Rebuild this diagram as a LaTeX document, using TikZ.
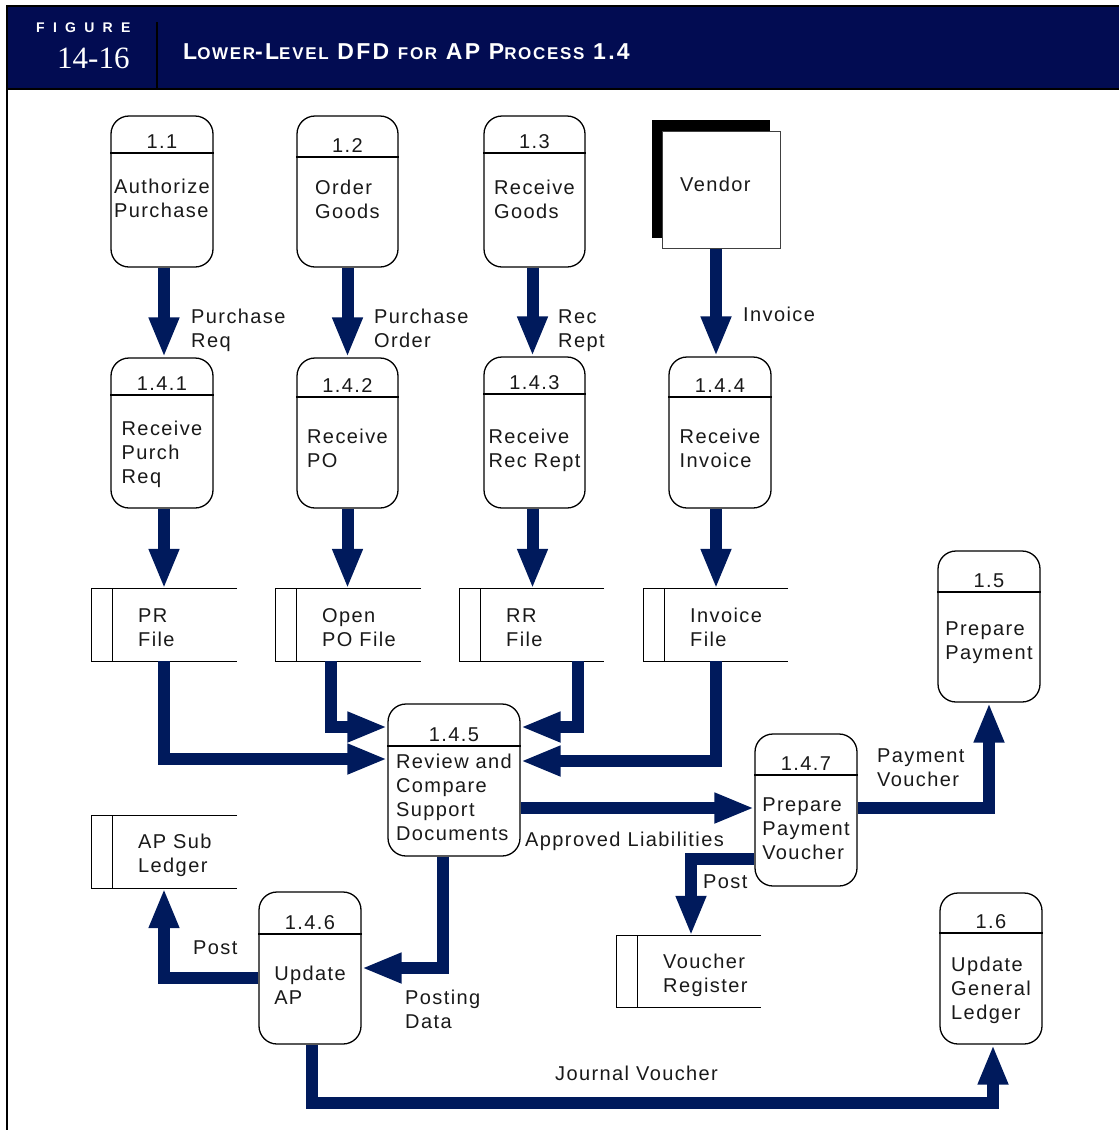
\documentclass[tikz,border=0pt]{standalone}
\usepackage{fontspec}
\setmainfont{Liberation Sans}[LetterSpace=7]
\newfontfamily\numfont{Liberation Serif}
\newfontfamily\headfont{Liberation Sans}[LetterSpace=59]
\newfontfamily\titlefont{Liberation Sans}[LetterSpace=10]
\usetikzlibrary{arrows.meta,fit}
\definecolor{hdr}{RGB}{2,12,82}
\definecolor{flowc}{RGB}{0,26,92}
\newcommand\lines[1]{\vtop{\halign{##\hfil\cr#1\crcr}}}
\newcommand\tbig[1]{{\fontsize{23}{23}\selectfont #1}}
\newcommand\tsml[1]{{\fontsize{17}{17}\selectfont #1}}
\tikzset{
  proc/.style={draw=black, line width=1.3pt, rounded corners=18pt, inner sep=0pt, fill=white},
  divider/.style={line width=1.2pt},
  lbl/.style={inner sep=0pt, font=\fontsize{20}{24}\selectfont, text=black!90},
  flow/.style={draw=flowc, line width=12pt, -{Triangle[width=28pt,length=40pt]}},
  storeline/.style={line width=1.3pt},
}
% name, x1, y1, x2, y2, divider y, number, body baseline, body
\newcommand\proc[9]{%
  \node[proc, fit={(#2,#3)(#4,#5)}] (#1) {};
  \draw[divider] (#1.west |- 0,#6) -- (#1.east |- 0,#6);
  \node[lbl, anchor=base, yshift=5pt] (#1-n) at (#1.center |- 0,#6) {#7};
  \node[lbl, anchor=base] (#1-t) at (#1.center |- 0,#8) {\lines{#9}};
}
% name, x1, y1, x2, y2, text x, text baseline, text
\newcommand\store[8]{%
  \node[fit={(#2,#3)(#4,#5)}, inner sep=0pt] (#1) {};
  \draw[storeline] (#1.north east) -- (#1.north west) -- (#1.south west) -- (#1.south east);
  \draw[storeline] ([xshift=21pt]#1.north west) -- ([xshift=21pt]#1.south west);
  \node[lbl, anchor=base west] (#1-t) at (#6,#7) {\lines{#8}};
}
\begin{document}
\begin{tikzpicture}[x=1pt,y=-1pt]
\useasboundingbox (0,0) rectangle (1119,1130);
% header
\fill[hdr] (7,6) rectangle (1119,89);
\draw[line width=1.8pt] (1119,6) -- (7,6) -- (7,1130);
\draw[line width=1.8pt] (7,89) -- (1119,89);
\draw[line width=2.4pt] (157,22) -- (157,89);
\node[anchor=base west, inner sep=0pt, text=white, font=\headfont\bfseries\fontsize{14}{14}\selectfont] (fig) at (36,32) {FIGURE};
\node[anchor=base west, inner sep=0pt, text=white, font=\numfont\fontsize{31}{31}\selectfont] (fignum) at (57,68) {14-16};
\node[anchor=base west, inner sep=0pt, text=white, font=\titlefont\bfseries\fontsize{23}{23}\selectfont] (title) at (183,59)
  {\tbig{L}\tsml{OWER}-\tbig{L}\tsml{EVEL} \tbig{DFD} \tsml{FOR} \tbig{AP} \tbig{P}\tsml{ROCESS} \tbig{1.4}};

% processes
\proc{p11}{111}{116}{213}{267}{153}{1.1}{193}{Authorize\cr Purchase}
\proc{p12}{297}{116}{398}{267}{157}{1.2}{194}{Order\cr Goods}
\proc{p13}{484}{116}{585}{267}{153}{1.3}{194}{Receive\cr Goods}
\proc{p141}{111}{358}{213}{508}{395}{1.4.1}{435}{Receive\cr Purch\cr Req}
\proc{p142}{297}{358}{398}{508}{397}{1.4.2}{443}{Receive\cr PO}
\proc{p143}{484}{357}{585}{508}{394}{1.4.3}{443}{Receive\cr Rec Rept}
\proc{p144}{669}{357}{771}{508}{397}{1.4.4}{443}{Receive\cr Invoice}
\proc{p15}{938}{551}{1040}{702}{592}{1.5}{635}{Prepare\cr Payment}
\proc{p145}{388}{704}{520}{856}{746}{1.4.5}{768}{Review and\cr Compare\cr Support\cr Documents}
\proc{p147}{755}{734}{857}{886}{775}{1.4.7}{811}{Prepare\cr Payment\cr Voucher}
\proc{p146}{259}{892}{361}{1044}{934}{1.4.6}{980}{Update\cr AP}
\proc{p16}{940}{893}{1042}{1044}{933}{1.6}{971}{Update\cr General\cr Ledger}

% external entity
\fill[black] (652,120) rectangle (770,238);
\node[fit={(662,131)(780,248)}, inner sep=0pt, draw=black!75, line width=1pt, fill=white] (vendor) {};
\node[lbl, anchor=base west] (vendor-t) at (680,191) {Vendor};

% data stores
\store{pr}{92}{589}{237}{661}{138}{622}{PR\cr File}
\store{opo}{276}{589}{421}{661}{322}{622}{Open\cr PO File}
\store{rr}{460}{589}{604}{661}{506}{622}{RR\cr File}
\store{inv}{644}{589}{788}{661}{690}{622}{Invoice\cr File}
\store{aps}{92}{816}{237}{888}{138}{848}{AP Sub\cr Ledger}
\store{vr}{617}{936}{761}{1007}{663}{968}{Voucher\cr Register}

% flows
\draw[flow] ([xshift=2pt]p11.south) -- ([xshift=2pt]p141.north);
\draw[flow] (p12.south) -- (p142.north);
\draw[flow] ([xshift=-2pt]p13.south) -- ([xshift=-2pt]p143.north);
\draw[flow] ([xshift=-5pt]vendor.south) -- ([xshift=-5pt]vendor.south |- p144.north);
\draw[flow] ([xshift=2pt]p141.south) -- ([xshift=2pt]p141.south |- pr.north);
\draw[flow] (p142.south) -- (p142.south |- opo.north);
\draw[flow] ([xshift=-2pt]p143.south) -- ([xshift=-2pt]p143.south |- rr.north);
\draw[flow] ([xshift=-4pt]p144.south) -- ([xshift=-4pt]p144.south |- inv.north);
\draw[flow] (pr.south -| 164,0) |- (p145.west |- 0,759);
\draw[flow] (opo.south -| 331,0) |- (p145.west |- 0,727);
\draw[flow] (rr.south -| 578,0) |- (p145.east |- 0,727);
\draw[flow] (inv.south -| 716,0) |- (p145.east |- 0,761);
\draw[flow] (p145.east |- 0,808) -- (p147.west |- 0,808);
\draw[flow] (p147.east |- 0,808) -| (p15.south);
\draw[flow] (p147.west |- 0,859) -| (vr.north -| 691,0);
\draw[flow] (p145.south -| 443,0) |- (p146.east |- 0,968);
\draw[flow] (p146.west |- 0,978) -| (aps.south -| 164,0);
\coordinate (jv) at (993,1103);
\draw[flow] (p146.south -| 312,0) |- (jv) -- (p16.south -| jv);

% labels
\node[lbl, anchor=base west] (l1) at (191,323) {\lines{Purchase\cr Req}};
\node[lbl, anchor=base west] (l2) at (374,323) {\lines{Purchase\cr Order}};
\node[lbl, anchor=base west] (l3) at (558,323) {\lines{Rec\cr Rept}};
\node[lbl, anchor=base west] (l4) at (743,321) {Invoice};
\node[lbl, anchor=base west] (l5) at (877,762) {\lines{Payment\cr Voucher}};
\node[lbl, anchor=base west] (l6) at (525,846) {Approved Liabilities};
\node[lbl, anchor=base west] (l7) at (703,888) {Post};
\node[lbl, anchor=base west] (l8) at (193,954) {Post};
\node[lbl, anchor=base west] (l9) at (405,1004) {\lines{Posting\cr Data}};
\node[lbl, anchor=base west] (l10) at (555,1080) {Journal Voucher};
\end{tikzpicture}
\end{document}
